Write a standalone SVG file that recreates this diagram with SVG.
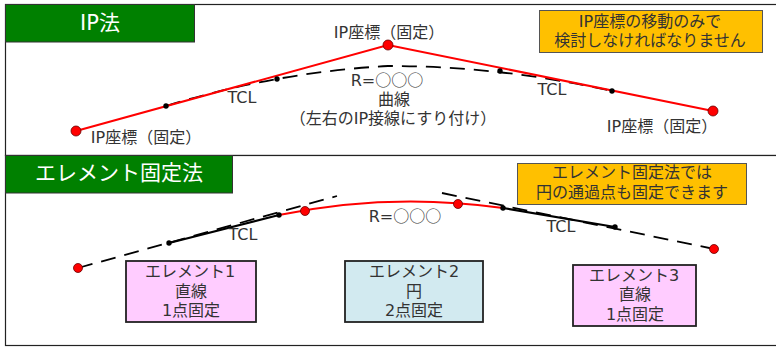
<svg xmlns="http://www.w3.org/2000/svg" width="776" height="347" viewBox="0 0 776 347">
<style>
text{font-family:"DejaVu Sans","Noto Sans CJK JP",sans-serif;font-size:16px;fill:#333;text-anchor:middle}
tspan{font-family:"Noto Sans CJK JP",sans-serif}
.head text,text.h{fill:#fff;font-size:21px}
.frame{fill:#fff;stroke:#222;stroke-width:1.2}
.head{fill:#008000;stroke:#333;stroke-width:1}
.note{fill:#ffc000;stroke:#555;stroke-width:1}
.pink{fill:#ffccff;stroke:#222;stroke-width:1.8}
.blue{fill:#d2eaf0;stroke:#222;stroke-width:1.8}
.red{fill:none;stroke:#f00;stroke-width:2}
.blk{fill:none;stroke:#000;stroke-width:2.2}
.dash{fill:none;stroke:#000;stroke-width:1.8;stroke-dasharray:15 9}
.rp{fill:#f00;stroke:#600;stroke-width:.8}
.bp{fill:#000}
</style>
<rect width="776" height="347" fill="#fff"/>
<g id="frame-ip"><rect class="frame" x="5.500" y="4.500" width="772" height="151"/></g>
<g id="frame-element"><rect class="frame" x="5.500" y="155.500" width="772" height="190"/></g>
<g id="header-ip"><rect class="head" x="5.500" y="4.500" width="189" height="37.500"/><text class="h" x="100" y="30">IP法</text></g>
<g id="header-element"><rect class="head" x="5.500" y="155.500" width="227" height="37.500"/><text class="h" x="119" y="180">エレメント固定法</text></g>
<g id="connectors">
<path class="dash" d="M166 106Q277 72 388 66Q500 66 612 91"/>
<path class="red" d="M76 131L388 45L713 111"/>
<path class="dash" d="M78 268L337 196"/>
<path class="dash" d="M442 193L714 249"/>
<path class="blk" d="M169 243L279 215M503 208L615 227"/>
<path class="red" d="M279 215Q390 192 503 208"/>
</g>
<g id="p1"><circle class="rp" cx="76" cy="131" r="5"/></g>
<g id="p2"><circle class="rp" cx="388" cy="45" r="5"/></g>
<g id="p3"><circle class="rp" cx="713" cy="111" r="5"/></g>
<g id="p4"><circle class="bp" cx="166" cy="106" r="2.700"/><circle class="bp" cx="277" cy="79" r="2.700"/><circle class="bp" cx="500" cy="71" r="2.700"/><circle class="bp" cx="612" cy="91" r="2.700"/></g>
<g id="p5"><circle class="rp" cx="78" cy="268" r="4.500"/><circle class="rp" cx="305" cy="211" r="4.500"/><circle class="rp" cx="458" cy="204" r="4.500"/><circle class="rp" cx="714" cy="249" r="4.500"/></g>
<g id="p6"><circle class="bp" cx="169" cy="243" r="2.700"/><circle class="bp" cx="279" cy="215" r="2.700"/><circle class="bp" cx="503" cy="208" r="2.700"/><circle class="bp" cx="615" cy="227" r="2.700"/></g>
<g id="labels-ip">
<text x="389" y="38">IP座標（固定）</text>
<text x="146" y="143">IP座標（固定）</text>
<text x="662" y="132">IP座標（固定）</text>
<text x="242" y="103">TCL</text>
<text x="552" y="95">TCL</text>
<text x="387" y="86">R=<tspan>○○○</tspan></text>
<text x="394" y="105">曲線</text>
<text x="393" y="124">（左右のIP接線にすり付け）</text>
</g>
<g id="labels-element">
<text x="243" y="240">TCL</text>
<text x="561" y="232">TCL</text>
<text x="405" y="222">R=<tspan>○○○</tspan></text>
</g>
<g id="note-ip"><rect class="note" x="539.500" y="10.500" width="223" height="42"/><text x="650" y="27">IP座標の移動のみで</text><text x="650" y="46">検討しなければなりません</text></g>
<g id="note-element"><rect class="note" x="517.500" y="163.500" width="229" height="41"/><text x="632" y="178">エレメント固定法では</text><text x="632" y="198">円の通過点も固定できます</text></g>
<g id="el1"><rect class="pink" x="126" y="261" width="130" height="61"/><text x="190" y="277">エレメント1</text><text x="191" y="297">直線</text><text x="191" y="316">1点固定</text></g>
<g id="el2"><rect class="blue" x="345" y="261" width="138" height="61"/><text x="414" y="277">エレメント2</text><text x="414" y="297">円</text><text x="414" y="316">2点固定</text></g>
<g id="el3"><rect class="pink" x="573" y="265" width="123" height="61"/><text x="634" y="281">エレメント3</text><text x="635" y="300">直線</text><text x="635" y="320">1点固定</text></g>
</svg>
